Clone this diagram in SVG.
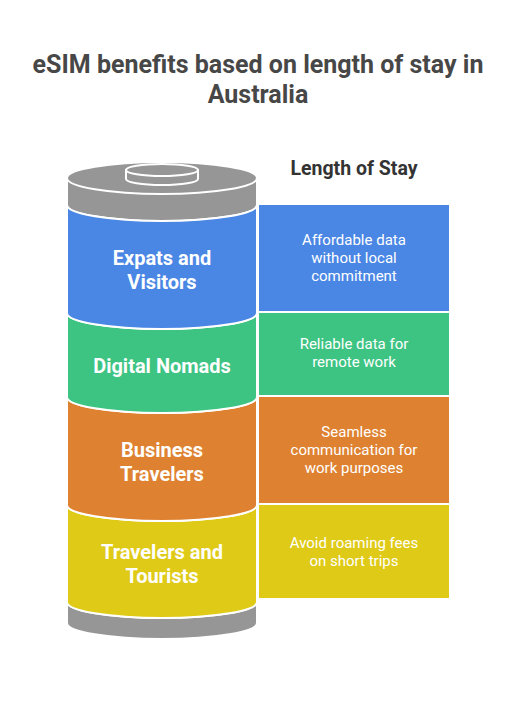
<svg xmlns="http://www.w3.org/2000/svg" width="516" height="714" viewBox="0 0 516 714">
<style>
.title{font-family:Roboto,"Liberation Sans",sans-serif;font-weight:bold;font-size:25px;fill:#474747;text-anchor:middle}
.head{font-family:Roboto,"Liberation Sans",sans-serif;font-weight:bold;font-size:19.5px;fill:#333333;text-anchor:middle}
.seg{font-family:Roboto,"Liberation Sans",sans-serif;font-weight:bold;font-size:20px;fill:#ffffff;text-anchor:middle}
.box{font-family:Roboto,"Liberation Sans",sans-serif;font-size:15px;fill:#ffffff;text-anchor:middle}
.edge{stroke:#ffffff;stroke-width:2}
</style>
<rect width="516" height="714" fill="#ffffff"/>
<text class="title" x="258" y="73">eSIM benefits based on length of stay in</text>
<text class="title" x="258" y="103">Australia</text>
<text class="head" x="354" y="175">Length of Stay</text>

<g id="base">
<path class="edge" d="M67,602 A95,16 0 0 0 257,602 L257,623 A95,16 0 0 1 67,623 Z" fill="#969696"/>
</g>
<g id="cap">
<path class="edge" d="M67,178 L67,205 A95,16 0 0 0 257,205 L257,178 Z" fill="#969696"/>
<ellipse class="edge" cx="162" cy="178" rx="95" ry="16" fill="#969696"/>
<path class="edge" d="M126,170 L126,179 A36,6 0 0 0 198,179 L198,170 Z" fill="#969696"/>
<ellipse class="edge" cx="162" cy="170" rx="36" ry="6" fill="#969696"/>
</g>

<g id="seg-yellow">
<path class="edge" d="M67,505 A95,16 0 0 0 257,505 L257,602 A95,16 0 0 1 67,602 Z" fill="#DFCA17"/>
<text class="seg" x="162" y="559">Travelers and</text>
<text class="seg" x="162" y="583">Tourists</text>
</g>
<g id="seg-orange">
<path class="edge" d="M67,397 A95,16 0 0 0 257,397 L257,505 A95,16 0 0 1 67,505 Z" fill="#DE8231"/>
<text class="seg" x="162" y="457">Business</text>
<text class="seg" x="162" y="481">Travelers</text>
</g>
<g id="seg-green">
<path class="edge" d="M67,313 A95,16 0 0 0 257,313 L257,397 A95,16 0 0 1 67,397 Z" fill="#3DC483"/>
<text class="seg" x="162" y="373">Digital Nomads</text>
</g>
<g id="seg-blue">
<path class="edge" d="M67,205 A95,16 0 0 0 257,205 L257,313 A95,16 0 0 1 67,313 Z" fill="#4A86E4"/>
<text class="seg" x="162" y="265">Expats and</text>
<text class="seg" x="162" y="289">Visitors</text>
</g>

<g id="box-blue">
<rect x="258" y="204" width="192" height="108" fill="#4A86E4" class="edge"/>
<text class="box" x="354" y="245">Affordable data</text>
<text class="box" x="354" y="263">without local</text>
<text class="box" x="354" y="281">commitment</text>
</g>
<g id="box-green">
<rect x="258" y="312" width="192" height="84" fill="#3DC483" class="edge"/>
<text class="box" x="354" y="349">Reliable data for</text>
<text class="box" x="354" y="367">remote work</text>
</g>
<g id="box-orange">
<rect x="258" y="396" width="192" height="108" fill="#DE8231" class="edge"/>
<text class="box" x="354" y="437">Seamless</text>
<text class="box" x="354" y="455">communication for</text>
<text class="box" x="354" y="473">work purposes</text>
</g>
<g id="box-yellow">
<rect x="258" y="504" width="192" height="95" fill="#DFCA17" class="edge"/>
<text class="box" x="354" y="548">Avoid roaming fees</text>
<text class="box" x="354" y="566">on short trips</text>
</g>
<g id="connectors"></g>
</svg>
